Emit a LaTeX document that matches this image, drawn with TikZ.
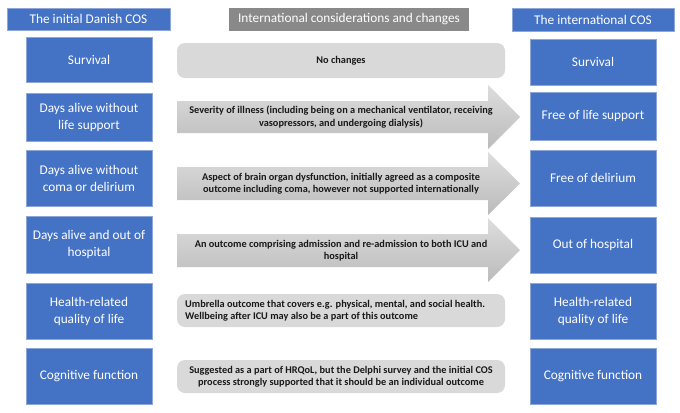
\documentclass[tikz,border=0pt]{standalone}
\usepackage{fontspec}
\setmainfont{Carlito}
\definecolor{ofblue}{HTML}{4472C4}
\definecolor{ofedge}{HTML}{8FA7D8}
\definecolor{hdrgray}{HTML}{898989}
\definecolor{boxgray}{HTML}{D9D9D9}
\definecolor{arrtop}{HTML}{DDDDDD}
\definecolor{arrbot}{HTML}{BBBBBB}
\begin{document}
\begin{tikzpicture}[x=1bp,y=-1bp,
  bluebox/.style={fill=ofblue, draw=ofedge, line width=0.4bp, text=white, align=center, inner sep=0pt,
    font=\fontsize{13.3bp}{17bp}\selectfont},
  hdrblue/.style={fill=ofblue, draw=ofedge, line width=0.4bp, text=white, inner sep=0pt,
    font=\fontsize{13.3bp}{15bp}\selectfont},
  hdrgrey/.style={fill=hdrgray, text=white, inner sep=0pt, font=\fontsize{13.3bp}{15bp}\selectfont},
  roundbox/.style={fill=boxgray, rounded corners=8bp},
  arrowshape/.style={top color=arrtop, bottom color=arrbot, draw=none},
  midtext/.style={align=center, inner sep=0pt, text=black!90, font=\fontsize{10.3bp}{12.5bp}\selectfont\bfseries},
  midleft/.style={align=left, inner sep=0pt, text=black!90, font=\fontsize{10.3bp}{12.5bp}\selectfont\bfseries}
]
\useasboundingbox[fill=white] (0,0) rectangle (680,412);

% headers
\node[hdrblue, minimum width=163bp, minimum height=22bp] (h1) at (88.5,19) {The initial Danish COS};
\node[hdrgrey, minimum width=240bp, minimum height=23bp] (h2) at (349,19.5) {International considerations and changes};
\node[hdrblue, minimum width=162bp, minimum height=23bp] (h3) at (593,19.5) {The international COS};

% left column
\node[bluebox, minimum width=126bp, minimum height=45bp] (l1) at (89,59.5) {Survival};
\node[bluebox, minimum width=126bp, minimum height=48bp] (l2) at (89,117) {Days alive without\\life support};
\node[bluebox, minimum width=126bp, minimum height=56bp] (l3) at (89,178) {Days alive without\\coma or delirium};
\node[bluebox, minimum width=126bp, minimum height=57bp] (l4) at (89,244.5) {Days alive and out of\\hospital};
\node[bluebox, minimum width=126bp, minimum height=56bp] (l5) at (89,311) {Health-related\\quality of life};
\node[bluebox, minimum width=126bp, minimum height=56bp] (l6) at (89,376) {Cognitive function};

% right column
\node[bluebox, minimum width=126bp, minimum height=46bp] (r1) at (593,62) {Survival};
\node[bluebox, minimum width=126bp, minimum height=48bp] (r2) at (593,116) {Free of life support};
\node[bluebox, minimum width=126bp, minimum height=56bp] (r3) at (593,178) {Free of delirium};
\node[bluebox, minimum width=126bp, minimum height=56bp] (r4) at (593,245) {Out of hospital};
\node[bluebox, minimum width=126bp, minimum height=56bp] (r5) at (593,311) {Health-related\\quality of life};
\node[bluebox, minimum width=126bp, minimum height=56bp] (r6) at (593,376) {Cognitive function};

% middle: rounded boxes
\path[roundbox] (177,43) rectangle (505,78);
\node[midtext] (m1) at (341,60.5) {No changes};

% arrows
\path[arrowshape] (177,101) -- (488,101) -- (488,85) -- (520,117) -- (488,149) -- (488,133) -- (177,133) -- cycle;
\node[midtext] (m2) at (341,117) {Severity of illness (including being on a mechanical ventilator, receiving\\vasopressors, and undergoing dialysis)};

\path[arrowshape] (177,167) -- (488,167) -- (488,152) -- (520,183.5) -- (488,215) -- (488,200) -- (177,200) -- cycle;
\node[midtext] (m3) at (341,183.5) {Aspect of brain organ dysfunction, initially agreed as a composite\\outcome including coma, however not supported internationally};

\path[arrowshape] (177,234) -- (488,234) -- (488,218) -- (520,250) -- (488,282) -- (488,267) -- (177,267) -- cycle;
\node[midtext] (m4) at (341,250.5) {An outcome comprising admission and re-admission to both ICU and\\hospital};

\path[roundbox] (177,294) rectangle (505,327);
\node[midleft, anchor=west] (m5) at (185,310.5) {Umbrella outcome that covers e.g. physical, mental, and social health.\\Wellbeing after ICU may also be a part of this outcome};

\path[roundbox] (177,360) rectangle (505,393);
\node[midtext] (m6) at (341,376.5) {Suggested as a part of HRQoL, but the Delphi survey and the initial COS\\process strongly supported that it should be an individual outcome};
\end{tikzpicture}
\end{document}
